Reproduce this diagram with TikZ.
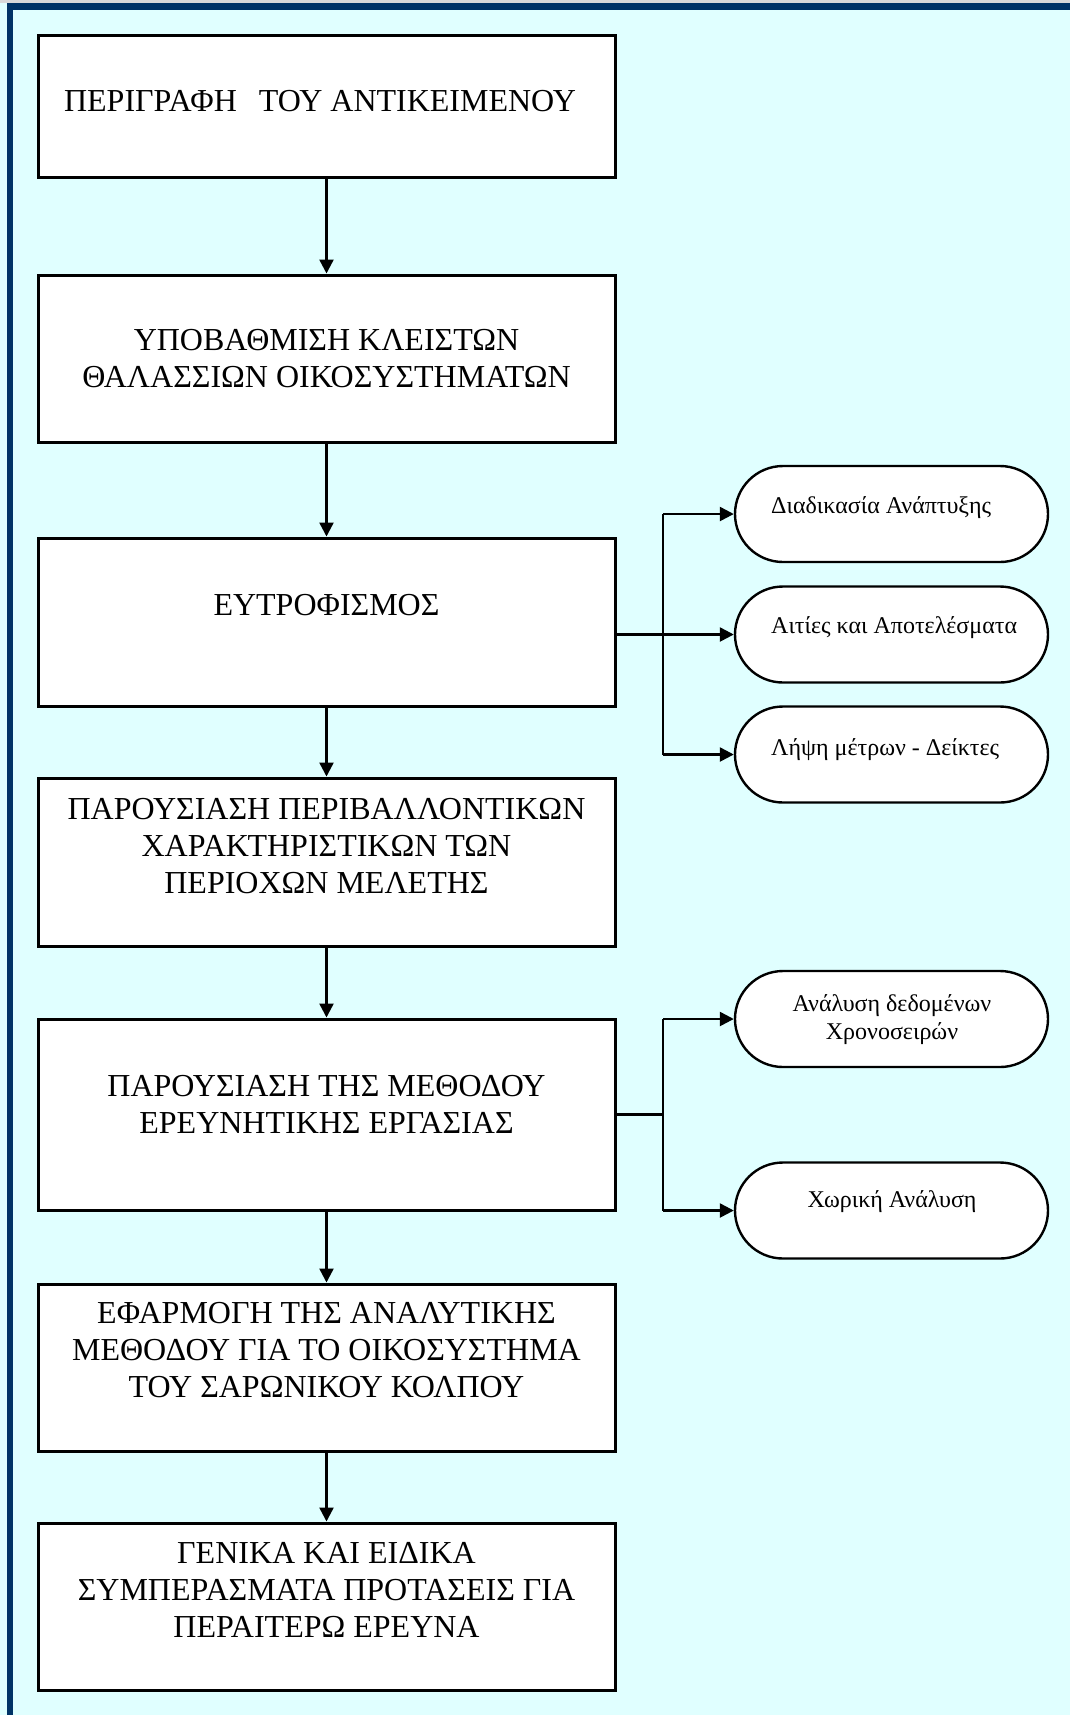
\documentclass[tikz,border=0pt]{standalone}
\usepackage{fontspec}
\setmainfont{Liberation Serif}
\usetikzlibrary{arrows.meta,calc}

\definecolor{framecol}{HTML}{003366}
\definecolor{bgcol}{HTML}{E0FFFF}

\tikzset{
  box/.style={draw,line width=1.5pt,fill=white,minimum width=288.5pt,inner sep=0pt},
  boxtext/.style={align=center,font=\fontsize{16}{18.5}\selectfont,inner sep=0pt},
  pill/.style={draw,line width=1.2pt,fill=white,rounded corners=24pt,minimum width=156.5pt,minimum height=48pt,inner sep=0pt},
  pilltext/.style={align=center,font=\fontsize{12}{14}\selectfont,inner sep=0pt}
}

\begin{document}
\begin{tikzpicture}[x={(0.5pt,0)},y={(0,-0.5pt)},>={Triangle[length=7pt,width=7pt]},line width=1.2pt]
  % Hintergrund und Rahmen
  \useasboundingbox (0,0) rectangle (1070,1715);
  \fill[bgcol] (0,0) rectangle (1070,1715);
  \fill[black!15] (0,0) rectangle (1070,3);
  \fill[framecol] (7,3) rectangle (1070,10);
  \fill[framecol] (7,3) rectangle (13,1715);
  % Hauptkette
  \node[box,minimum height=71pt]   (b1) at (326.5,106)    {};
  \node[box,minimum height=83.5pt] (b2) at (326.5,358.5)  {};
  \node[box,minimum height=84pt]   (b3) at (326.5,622)    {};
  \node[box,minimum height=84pt]   (b4) at (326.5,862)    {};
  \node[box,minimum height=95.5pt] (b5) at (326.5,1114.5) {};
  \node[box,minimum height=83.5pt] (b6) at (326.5,1367.5) {};
  \node[box,minimum height=83.5pt] (b7) at (326.5,1606.5) {};
  \node[boxtext] (t1) at (320,101)    {ΠΕΡΙΓΡΑΦΗ\hspace{11pt}ΤΟΥ ΑΝΤΙΚΕΙΜΕΝΟΥ};
  \node[boxtext] (t2) at (326.5,358.5) {ΥΠΟΒΑΘΜΙΣΗ ΚΛΕΙΣΤΩΝ\\ΘΑΛΑΣΣΙΩΝ ΟΙΚΟΣΥΣΤΗΜΑΤΩΝ};
  \node[boxtext] (t3) at (326.5,605)   {ΕΥΤΡΟΦΙΣΜΟΣ};
  \node[boxtext] (t4) at (326.5,846)   {ΠΑΡΟΥΣΙΑΣΗ ΠΕΡΙΒΑΛΛΟΝΤΙΚΩΝ\\ΧΑΡΑΚΤΗΡΙΣΤΙΚΩΝ ΤΩΝ\\ΠΕΡΙΟΧΩΝ ΜΕΛΕΤΗΣ};
  \node[boxtext] (t5) at (326.5,1104)  {ΠΑΡΟΥΣΙΑΣΗ ΤΗΣ ΜΕΘΟΔΟΥ\\ΕΡΕΥΝΗΤΙΚΗΣ ΕΡΓΑΣΙΑΣ};
  \node[boxtext] (t6) at (326.5,1350)  {ΕΦΑΡΜΟΓΗ ΤΗΣ ΑΝΑΛΥΤΙΚΗΣ\\ΜΕΘΟΔΟΥ ΓΙΑ ΤΟ ΟΙΚΟΣΥΣΤΗΜΑ\\ΤΟΥ ΣΑΡΩΝΙΚΟΥ ΚΟΛΠΟΥ};
  \node[boxtext] (t7) at (326.5,1590)  {ΓΕΝΙΚΑ ΚΑΙ ΕΙΔΙΚΑ\\ΣΥΜΠΕΡΑΣΜΑΤΑ ΠΡΟΤΑΣΕΙΣ ΓΙΑ\\ΠΕΡΑΙΤΕΡΩ ΕΡΕΥΝΑ};
  \foreach\a/\b in {b1/b2,b2/b3,b3/b4,b4/b5,b5/b6,b6/b7} { \draw[->] (\a) -- (\b); }
  % Nebenzweige
  \node[pill] (r1) at (891.5,514)    {};
  \node[pill] (r2) at (891.5,634.5)  {};
  \node[pill] (r3) at (891.5,754.5)  {};
  \node[pill] (r4) at (891.5,1019)   {};
  \node[pill] (r5) at (891.5,1210.5) {};
  \node[pilltext,anchor=base west] (s1) at (770,513)  {Διαδικασία Ανάπτυξης};
  \node[pilltext,anchor=base west] (s2) at (770,633)  {Αιτίες και Αποτελέσματα};
  \node[pilltext,anchor=base west] (s3) at (770,755)  {Λήψη μέτρων - Δείκτες};
  \node[pilltext] (s4) at (892,1020)  {Ανάλυση δεδομένων\\Χρονοσειρών};
  \node[pilltext,anchor=base] (s5) at (892,1207)  {Χωρική Ανάλυση};
  \coordinate (j1) at (663,634.5);
  \coordinate (j2) at (663,1114.5);
  \draw[->] (b3.east |- r2) -- (r2);
  \draw (j1 |- r1) -- (j1 |- r3);
  \draw[->] (j1 |- r1) -- (r1);
  \draw[->] (j1 |- r3) -- (r3);
  \draw (b5.east |- j2) -- (j2);
  \draw (j2 |- r4) -- (j2 |- r5);
  \draw[->] (j2 |- r4) -- (r4);
  \draw[->] (j2 |- r5) -- (r5);
\end{tikzpicture}
\end{document}
